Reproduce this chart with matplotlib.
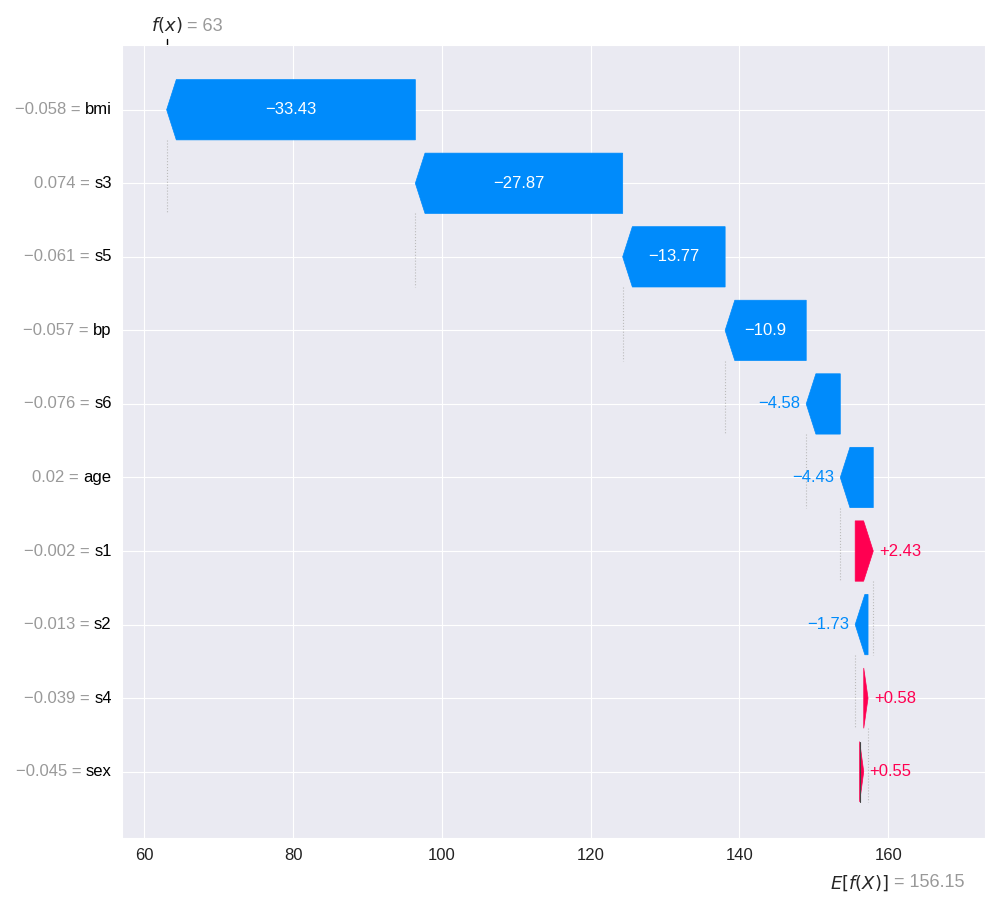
import matplotlib
matplotlib.use("Agg")
import matplotlib.pyplot as plt
import matplotlib.transforms as mtransforms
from matplotlib.patches import Polygon
import seaborn as sns

sns.set_style("darkgrid")
plt.rcParams['font.family'] = ['Liberation Sans', 'DejaVu Sans']

features = ["bmi", "s3", "s5", "bp", "s6", "age", "s1", "s2", "s4", "sex"]
feature_values = ["\u22120.058", "0.074", "\u22120.061", "\u22120.057", "\u22120.076",
                  "0.02", "\u22120.002", "\u22120.013", "\u22120.039", "\u22120.045"]
shap_values = [-33.43, -27.87, -13.77, -10.9, -4.58, -4.43, 2.43, -1.73, 0.58, 0.55]
base_value = 156.15

BLUE = "#008bfb"
RED = "#ff0051"
GREY = "#999999"

fig, ax = plt.subplots(figsize=(10, 9), dpi=100)
fig.subplots_adjust(left=0.122, right=0.985, top=0.95, bottom=0.069)

n = len(features)
ys = list(range(n))[::-1]  # bmi on top
bar_h = 0.82

# cumulative from the bottom (sex) upwards
starts = [0.0] * n
cur = base_value
for i in range(n - 1, -1, -1):
    starts[i] = cur
    cur += shap_values[i]
fx = cur

for i in range(n):
    v = shap_values[i]
    x0 = starts[i]
    x1 = x0 + v
    y = ys[i]
    col = RED if v > 0 else BLUE
    d = 1 if v > 0 else -1
    head = min(1.3, abs(v))
    body_end = x1 - d * head
    h = bar_h / 2
    pts = [(x0, y - h), (body_end, y - h), (x1, y), (body_end, y + h), (x0, y + h)]
    ax.add_patch(Polygon(pts, closed=True, facecolor=col, edgecolor=col, lw=0.5, zorder=3))
    # connector from the bar end down to the row below
    if i < n - 1:
        ax.plot([x1, x1], [y - h, y - 1 - h], ls=":", color="#bbbbbb", lw=0.8, zorder=2)
    txt = ("+" if v > 0 else "\u2212") + ("%g" % abs(v))
    if abs(v) > 8:
        ax.text((x0 + x1) / 2, y, txt, ha="center", va="center", color="white",
                fontsize=12, zorder=4)
    else:
        right = max(x0, x1)
        left = min(x0, x1)
        if v > 0:
            ax.text(right + 0.8, y, txt, ha="left", va="center", color=col, fontsize=12)
        else:
            ax.text(left - 0.8, y, txt, ha="right", va="center", color=col, fontsize=12)

ax.plot([base_value, base_value], [ys[-1] - bar_h / 2, ys[-1] + bar_h / 2],
        color="#444444", lw=0.8, zorder=4)

ax.set_xlim(57, 173)
ax.set_ylim(-0.9, n - 1 + 0.88)
ax.set_xticks([60, 80, 100, 120, 140, 160])
ax.tick_params(axis="x", labelsize=12, colors="#222222")
ax.set_yticks(ys)
ax.set_yticklabels([])
ax.tick_params(axis="y", length=0)

trans = mtransforms.blended_transform_factory(ax.transAxes, ax.transData)
for i in range(n):
    t = ax.text(-0.012, ys[i], features[i], transform=trans, ha="right", va="center",
                fontsize=12, color="black")
    ax.annotate(feature_values[i] + " = ", xy=(0, 0.5), xycoords=t, ha="right",
                va="center", fontsize=12, color=GREY)

# f(x) marker on top
ttop = mtransforms.blended_transform_factory(ax.transData, ax.transAxes)
ax.plot([fx, fx], [1.0, 1.008], transform=ttop, color="black", lw=1, clip_on=False)
t1 = ax.text(fx, 1.013, "$f(x)$", transform=ttop, ha="center", va="bottom", fontsize=13)
ax.annotate(" = 63", xy=(1, 0), xycoords=t1, ha="left", va="bottom", fontsize=13, color=GREY)

# E[f(X)] marker at bottom
t2 = ax.text(base_value, -0.045, "$E[f(X)]$", transform=ttop, ha="center", va="top", fontsize=13)
ax.annotate(" = 156.15", xy=(1, 1), xycoords=t2, ha="left", va="top", fontsize=13, color=GREY)

fig.savefig("out.png")
